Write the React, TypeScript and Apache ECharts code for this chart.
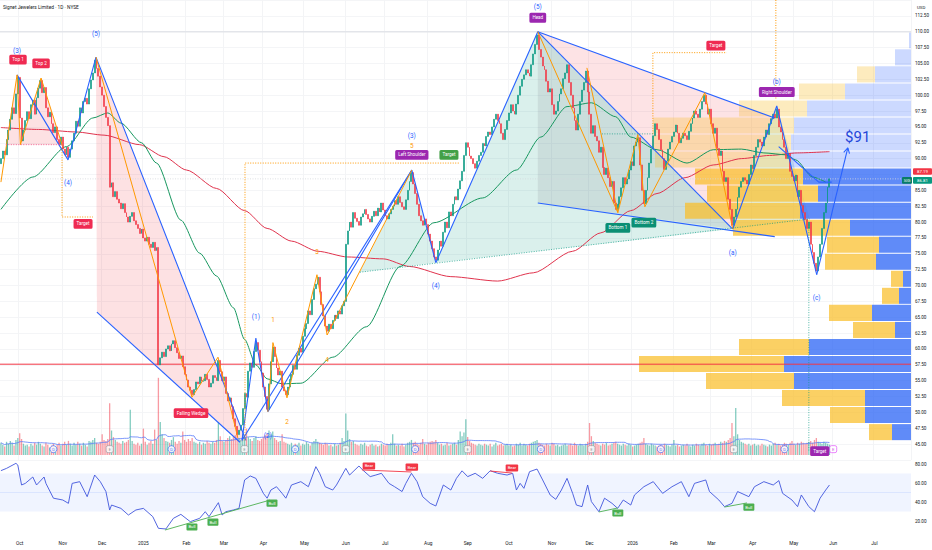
import React, { useEffect, useRef } from "react";
import * as echarts from "echarts";

const FONT = 'Roboto, "Liberation Sans", Arial, sans-serif';
const TITLE = "Signet Jewelers Limited · 1D · NYSE";
const SLOT_COUNT = 486; // trading-day slots on the time axis (Sep 17 2024 -> Jul 2026)
const PRICE_MIN = 42.5;
const PRICE_MAX = 115;
const PRICE_STEP = 2.5;

// ---- daily closes (index 0 = 2024-09-17) ----
const firstOpen = 89.2;
const closes = [
  90.0, 91.2, 90.6, 93.0, 94.5, 96.2, 98.0, 97.1, 100.2, 102.8, // 0-9
  96.4, 92.8, // 10-11
  94.5, 96.0, 97.4, 96.3, 98.5, 99.2, 97.0, 99.6, 101.1, 102.3, // 12-21
  100.4, 101.2, 98.0, 96.6, 97.3, 95.5, 94.1, 95.0, 93.0, 92.2, 93.4, 91.5, 90.6, 91.8, 90.2, // 22-36
  91.5, 92.8, 94.0, 95.9, 95.1, 98.0, 97.2, 99.0, 99.5, 98.6, 101.0, 102.4, 103.5, 105.5, // 37-50
  104.2, 103.0, 101.3, 100.0, 98.2, 96.5, 95.2, // 51-57
  85.5, 86.2, 84.0, 84.8, 83.6, 83.0, 82.1, 82.9, 81.5, 80.8, 80.0, 80.9, 81.5, 80.2, 79.6, 79.0, 78.2, 78.9, 77.5, 77.0, 77.6, 76.5, 76.0, 76.8, 75.5, 76.0, // 58-83
  57.5, 58.6, 59.5, 58.8, 60.0, 60.5, 59.7, 60.8, 61.3, 60.2, 59.4, 58.5, 58.9, 57.2, 56.0, 55.1, 54.0, 53.5, 52.8, // 84-102
  53.6, 54.8, 54.5, 55.6, 54.9, 55.0, 56.0, 55.2, 54.0, 54.6, 55.8, 55.5, 55.0, 58.2, // 103-116
  56.4, 55.0, 55.6, 53.0, 51.8, 52.3, 50.9, 49.0, 47.8, 46.5, // 117-126
  47.2, 48.0, 50.6, 53.0, 52.4, 56.5, 57.8, 57.1, 59.6, 61.0, // 127-136
  59.8, 58.0, 56.2, 54.0, 52.5, 50.5, // 137-142
  54.5, 58.0, 60.3, 58.8, 57.0, 55.9, 56.5, 54.0, 53.4, 52.8, // 143-152
  54.0, 55.2, 56.0, 57.4, 56.8, 59.0, 60.1, 59.5, 62.0, 63.2, 64.0, 66.0, 65.4, 67.8, 69.5, 70.2, 71.3, // 153-169
  69.0, 67.0, 65.2, 63.6, 62.8, // 170-174
  63.9, 63.2, 64.5, 65.3, 64.8, 66.0, 65.5, 66.8, 67.5, // 175-183
  76.5, 78.6, 80.0, 79.2, 81.5, 80.6, 80.1, 79.5, 80.8, 81.3, // 184-193
  82.0, 81.2, 80.5, 80.0, 80.9, 81.7, 81.0, 82.2, 81.6, 83.0, // 194-203
  81.9, 81.0, 80.5, 81.3, 82.0, 82.5, 83.4, 82.8, 84.0, 83.1, // 204-213
  82.4, 82.0, 83.5, 85.0, 86.4, 87.8, // 214-219
  86.0, 84.5, 82.8, 81.0, 80.2, 79.5, 80.5, 79.6, 78.1, 77.0, 75.8, 74.5, 74.0, // 220-232
  75.6, 77.0, 76.2, 78.4, 80.0, 79.1, 81.6, 81.0, 82.8, 84.0, 83.5, 85.2, 86.5, 88.0, 90.5, // 233-247
  92.5, 91.8, 90.4, 90.0, 89.2, 88.5, 89.6, 90.5, 91.0, 92.4, 92.0, 93.5, 94.2, 93.8, 95.0, 96.2, 97.0, // 248-264
  96.0, 95.5, 94.0, 93.0, 94.6, 96.0, 97.2, 98.5, 97.5, 97.0, 98.6, 100.0, 101.4, 102.5, 103.2, 104.0, 103.5, 103.0, 104.8, 106.5, 108.0, 109.5, // 265-286
  107.2, 106.0, 104.6, 104.0, 102.2, 100.5, 101.0, 98.5, 97.0, 97.5, 99.0, 100.2, 101.0, 102.6, 103.5, 104.8, 102.0, 100.0, 98.0, 96.0, 94.5, 97.0, 99.0, 100.8, 102.0, 103.8, // 287-312
  100.5, 97.0, 94.0, 95.2, 93.5, 92.8, 91.0, 91.8, 88.6, 87.5, 88.5, 87.0, 85.6, 86.4, 83.0, 82.0, // 313-328
  82.8, 84.0, 85.4, 87.0, 86.0, 86.8, 88.2, 89.5, 88.9, 92.0, 92.6, 93.3, 89.0, 85.0, 82.9, // 329-343
  85.0, 87.0, 89.3, 91.5, 93.6, 95.5, 94.6, 93.0, 91.4, 90.0, 88.3, 89.6, 91.5, 92.6, 93.5, 94.2, 95.3, // 344-360
  94.0, 92.5, 93.2, 94.0, 93.6, 93.0, 94.3, 95.5, 96.4, 97.5, 97.0, 96.5, 97.8, 99.0, 100.0, // 361-375
  98.6, 97.0, 97.8, 95.5, 94.0, 94.8, 91.6, 90.5, 91.2, 88.0, 86.4, 87.0, 83.6, 82.0, 79.5, // 376-390
  80.8, 82.0, 83.9, 85.5, 86.4, 87.0, 86.6, 86.0, 87.5, 89.0, 88.4, 90.5, 91.8, 93.0, 92.6, 92.0, 93.4, 94.5, 93.8, 95.5, 96.3, 97.0, 96.4, 97.8, // 391-414
  95.0, 94.2, 93.0, 91.8, 90.0, 90.8, 88.0, 87.2, 86.5, 87.4, 84.0, 85.0, 82.6, 81.5, 80.4, 79.0, 80.0, 76.5, 75.2, 73.5, 72.3, 74.5, 76.5, 79.0, 81.5, 83.0, 85.5, 86.81, // 415-442
];
const refPrice = 87.19;

// ---- daily volume, millions of shares ----
const volumes = [
  1.3, 1.1, 0.9, 1.4, 1.2, 1.5, 1.3, 1.0, 1.6, 1.8,
  2.3, 1.7, 1.2, 1.0, 1.1, 0.9, 1.2, 1.0, 1.3, 1.1,
  1.4, 1.2, 1.0, 0.9, 1.3, 1.1, 0.8, 1.0, 1.2, 0.9,
  1.1, 1.3, 1.0, 1.2, 1.4, 1.1, 1.5, 1.2, 1.0, 1.3,
  1.1, 1.4, 1.2, 1.0, 1.3, 1.1, 0.9, 1.5, 1.4, 1.6,
  1.8, 1.3, 1.2, 1.4, 2.2, 1.6, 1.5, 1.7, 5.5, 2.6,
  1.9, 1.6, 1.4, 1.3, 1.2, 1.5, 1.3, 1.4, 1.6, 4.8,
  1.5, 1.2, 1.1, 1.3, 1.0, 1.2, 2.8, 1.4, 1.1, 1.3,
  1.5, 1.2, 2.7, 1.6, 8.2, 3.5, 2.2, 1.8, 1.5, 1.4,
  1.3, 1.6, 1.9, 1.4, 1.2, 1.5, 1.3, 2.5, 1.6, 1.4,
  1.7, 1.5, 1.8, 1.4, 1.3, 1.2, 1.4, 1.1, 1.3, 1.2,
  1.5, 1.3, 1.2, 1.4, 1.3, 1.6, 3.5, 2.0, 1.5, 1.4,
  1.6, 1.8, 2.0, 1.7, 1.9, 2.1, 2.4, 1.8, 1.6, 2.2,
  2.0, 2.8, 1.9, 1.7, 1.5, 1.8, 2.0, 1.6, 1.5, 1.7,
  1.9, 2.1, 2.3, 2.6, 2.2, 2.5, 1.8, 1.6, 1.4, 1.5,
  2.2, 1.4, 1.3, 1.2, 1.1, 1.3, 1.0, 1.2, 1.1, 1.3,
  1.0, 1.2, 1.1, 1.4, 1.2, 1.0, 1.3, 1.5, 1.7, 1.4,
  1.3, 1.2, 1.1, 1.3, 1.2, 1.0, 1.1, 0.9, 1.2, 1.0,
  1.1, 1.3, 1.8, 1.5, 4.4, 2.6, 1.7, 1.4, 1.5, 1.2,
  1.1, 1.0, 1.2, 1.1, 1.3, 1.0, 0.9, 1.1, 1.2, 1.0,
  1.1, 0.9, 1.0, 1.2, 1.1, 1.0, 1.2, 1.1, 1.3, 2.2,
  1.2, 1.0, 1.1, 1.0, 1.2, 0.9, 1.1, 1.3, 1.4, 1.6,
  1.3, 1.4, 1.2, 1.1, 1.3, 1.7, 1.2, 1.1, 1.3, 1.4,
  1.5, 1.4, 1.6, 1.3, 1.1, 1.2, 1.0, 1.1, 1.3, 1.0,
  1.1, 1.2, 1.3, 1.1, 1.6, 2.5, 2.0, 2.4, 3.8, 1.9,
  1.5, 1.3, 1.2, 1.1, 1.0, 1.2, 1.1, 1.0, 1.2, 1.1,
  1.0, 1.2, 0.9, 1.1, 1.3, 1.0, 1.1, 1.2, 1.0, 1.1,
  1.2, 1.0, 1.1, 0.9, 1.0, 1.2, 1.1, 1.3, 1.0, 1.2,
  1.1, 1.0, 1.2, 1.3, 1.4, 1.5, 1.6, 1.3, 1.2, 1.1,
  1.0, 1.2, 1.1, 1.0, 1.3, 1.2, 1.0, 1.1, 0.9, 1.0,
  1.1, 1.2, 1.0, 1.1, 1.2, 1.0, 1.3, 1.1, 1.0, 1.2,
  1.1, 1.0, 1.2, 1.4, 3.4, 2.0, 1.5, 1.3, 1.2, 1.1,
  1.0, 1.2, 1.1, 1.3, 1.0, 1.1, 1.2, 1.3, 1.4, 1.2,
  1.1, 1.0, 1.2, 1.1, 1.0, 1.2, 1.1, 0.9, 1.0, 1.1,
  1.2, 1.3, 1.4, 1.8, 1.2, 1.1, 1.0, 1.2, 1.1, 1.0,
  0.9, 1.0, 1.1, 1.0, 1.2, 1.1, 1.0, 0.9, 1.1, 1.6,
  1.0, 1.1, 0.9, 1.0, 1.1, 1.0, 1.2, 1.0, 0.9, 1.1,
  1.0, 1.2, 1.1, 1.0, 1.2, 1.3, 1.1, 1.0, 1.2, 1.1,
  1.2, 1.3, 1.1, 1.2, 1.4, 1.3, 1.5, 1.4, 1.6, 1.8,
  3.4, 2.0, 5.0, 2.2, 1.6, 1.4, 1.3, 1.2, 1.1, 1.2,
  1.0, 1.1, 1.2, 1.0, 1.1, 1.0, 1.2, 1.1, 1.0, 0.9,
  1.1, 1.0, 1.2, 1.3, 1.1, 1.2, 1.0, 1.1, 1.3, 1.2,
  1.1, 1.3, 1.5, 1.2, 1.1, 1.3, 1.2, 1.4, 1.3, 1.2,
  1.3, 1.4, 1.5, 1.3, 1.6, 1.8, 1.4, 1.3, 1.2, 1.4,
  1.3, 1.2, 1.1,
];
const VOLUME_MA_LEN = 20;

// ---- moving averages: [day index, value] ----
const sma200 = [
  [0, 94.9], [20, 94.6], [40, 94.2], [55, 93.7], [74, 92.2], [87, 90.3], [99, 88.2], [115, 85.3],
  [130, 81.8], [142, 79.0], [155, 77.0], [169, 75.4], [185, 74.5], [204, 74.2], [218, 73.0], [240, 71.4],
  [265, 70.7], [284, 72.0], [305, 75.4], [320, 78.3], [336, 81.8], [350, 84.5], [365, 87.0], [380, 89.0],
  [395, 90.0], [410, 90.5], [425, 90.9], [442, 91.1],
];
const sma50 = [
  [0, 82.0], [17, 87.1], [35, 91.9], [49, 96.4], [57, 97.2], [64, 95.6], [75, 92.5], [83, 89.3],
  [96, 80.3], [106, 75.1], [115, 71.5], [124, 66.5], [130, 61.5], [136, 57.5], [142, 55.3], [150, 54.5],
  [160, 54.6], [177, 58.7], [195, 63.5], [213, 73.0], [231, 79.9], [257, 83.8], [275, 88.2], [288, 93.4],
  [302, 98.2], [315, 98.8], [328, 96.6], [336, 93.4], [350, 91.4], [366, 89.3], [380, 91.4], [395, 91.5],
  [407, 90.9], [419, 90.6], [424, 89.8], [433, 87.1], [440, 86.3],
];

// ---- RSI(14): [day index, value] ----
const rsi = [
  [0, 73], [3, 75.4], [8, 80.7], [9, 78.9], [11, 57.9], [13, 59.6], [17, 66.3], [19, 57.9], [23, 66.3], [24, 59.6],
  [28, 44], [33, 42.1], [36, 38.6], [38, 59.6], [42, 61.4], [46, 45.6], [50, 68.4], [53, 61.4], [56, 51], [58, 31.6],
  [59, 36.8], [64, 33.3], [68, 26.3], [72, 31.6], [76, 33.3], [81, 24.6], [84, 12.3], [88, 11.6], [92, 22.8], [96, 27],
  [101, 19.3], [106, 22.8], [109, 29.8], [111, 24.6], [116, 39.3], [118, 26.3], [120, 29.8], [124, 31.6], [127, 33.3], [130, 63.2],
  [133, 67.4], [136, 64.9], [140, 49.1], [142, 44], [144, 52.6], [147, 56.1], [150, 49.1], [152, 44], [155, 57.9], [160, 61.4],
  [164, 56.1], [168, 77.2], [170, 70.2], [173, 56.1], [177, 52.6], [179, 57.9], [184, 75.4], [186, 68.4], [191, 77.9], [193, 73.7],
  [197, 66.7], [200, 68.4], [203, 70.2], [207, 59.6], [210, 56.1], [214, 51], [216, 59.6], [219, 70.2], [222, 61.4], [225, 45.6],
  [229, 38.6], [232, 35.8], [236, 57.9], [240, 52.6], [243, 64.9], [246, 72.8], [249, 66.7], [253, 70.2], [257, 64.9], [261, 72.9],
  [265, 70.2], [270, 68.4], [273, 70.2], [275, 52.6], [277, 59.6], [279, 54.4], [282, 71.9], [286, 74.7], [289, 63.2], [293, 47.4],
  [296, 42.8], [299, 52.6], [302, 64.9], [305, 49.1], [307, 36.8], [310, 35.1], [313, 57.9], [315, 40.4], [319, 29.8], [322, 44],
  [326, 38.6], [329, 33.3], [332, 42.1], [336, 36.8], [338, 47.4], [343, 56.1], [348, 61.4], [353, 49.1], [358, 56.1], [363, 61.4],
  [367, 45.6], [370, 59.6], [376, 63.2], [378, 51], [383, 42.1], [386, 35.1], [390, 38.6], [393, 51], [399, 45.6], [402, 56.1],
  [407, 61.4], [412, 57.9], [415, 62.5], [417, 49.1], [422, 42.1], [425, 35.1], [427, 47.4], [431, 35.1], [434, 29.8], [437, 44],
  [440, 52.6], [442, 57.9],
];
const RSI_UPPER = 70;
const RSI_LOWER = 30;
const rsiBullLines = [
  [[87.5, 10.5], [143.5, 42.0]],
  [[319, 29.5], [329, 33.7]],
  [[386, 34.7], [398, 39.0]],
];
const rsiBearLines = [
  [[192.6, 73.7], [219, 71.6]],
  [[261, 72.6], [272.6, 70.5]],
];
const rsiBullTags = [["Bull", 101.9, 13.7], ["Bull", 113.1, 18.9], ["Bull", 144.6, 38.9], ["Bull", 329.1, 28.4], ["Bull", 399.0, 34.7]];
const rsiBearTags = [["Bear", 196.3, 77.9], ["Bear", 219.2, 76.8], ["Bear", 272.6, 75.8]];

// ---- visible-range volume profile: 24 rows from vpLow, step vpStep ----
const vpLow = 45.55;
const vpStep = 2.685;
const vpUp = [19, 46, 46, 117, 127, 102, 16, 39, 12, 8, 35, 32, 61, 111, 93, 108, 121, 120, 117, 104, 66, 36, 16, 2];
const vpDown = [23, 35, 83, 88, 145, 70, 42, 43, 17, 12, 51, 52, 117, 115, 111, 108, 135, 138, 141, 68, 46, 18, 0, 0];
const VP_AXIS_MAX = 911;

// ---- events (day index) ----
const dividendDays = [28, 91, 157, 221, 288, 352, 418];
const earningsDays = [58, 130, 184, 249, 315, 391];
const nextEarningsDays = [444];

// ---- drawings, anchored at [day index, price] ----
const doubleTopZone = [[2.6, 92.2], [8.6, 103.2], [10.4, 92.2], [21.4, 102.7], [32.6, 92.2]];
const wedgeZone = [[50.7, 106.0], [130.7, 45.6], [127.5, 45.3], [51.2, 65.8]];
const leftShoulderZone = [[191.5, 72.1], [219.2, 88.2], [232.0, 73.6]];
const headZone = [[232.0, 73.6], [286.4, 110.0], [390.4, 78.9]];
const rightShoulderZone = [[390.4, 78.9], [413.9, 98.3], [431.5, 80.5]];
const headGrayZone = [[286.4, 110.0], [390.4, 78.9], [286.4, 83.0]];
const broadeningZone = [[286.4, 110.0], [412.8, 96.4], [413.9, 98.3], [390.4, 78.9]];

const bluePaths = [
  [[8.6, 103.2], [35.8, 89.8], [50.7, 106.0], [130.7, 45.6]],
  [[51.2, 65.8], [127.5, 45.3]],
  [[128.6, 45.6], [136.0, 61.7], [142.4, 50.1], [219.2, 88.2], [232.0, 73.6], [286.4, 110.0]],
  [[128.6, 45.6], [219.2, 88.2]],
  [[286.4, 110.0], [390.4, 78.9]],
  [[286.4, 110.0], [412.8, 96.4]],
  [[286.4, 83.0], [412.8, 77.7]],
  [[390.4, 78.9], [413.9, 98.3], [435.2, 71.7]],
  [[435.2, 71.7], [451.8, 91.7]],
  [[449.6, 91.0], [451.8, 91.7], [452.7, 90.8]],
  [[414.9, 91.9], [436.3, 86.3], [443.2, 86.3]],
];
const orangePaths = [
  [[0, 86.3], [8.6, 103.2], [10.4, 92.2], [21.4, 102.7], [32.6, 92.2]],
  [[50.7, 106.0], [101.9, 52.4], [115.8, 58.7], [126.4, 46.0]],
  [[142.4, 50.1], [145.1, 61.0], [152.6, 52.3], [168.6, 71.7], [174.0, 62.2], [219.2, 88.2]],
  [[286.4, 110.0], [329.1, 81.5]],
  [[312.6, 104.3], [329.1, 81.5], [339.8, 93.8], [343.5, 82.4], [375.5, 100.4], [390.4, 78.9]],
];
const orangeDotted = [
  [[32.6, 92.2], [32.6, 80.8], [49.1, 80.8]],
  [[130.2, 45.6], [130.2, 89.3], [244.8, 89.3]],
  [[347.8, 93.9], [347.8, 106.7], [387.2, 106.7]],
  [[413.4, 115.0], [413.4, 99.3]],
];
const pinkDotted = [[[2.6, 92.2], [32.6, 92.2]]];
const tealDotted = [
  [[191.5, 72.1], [431.5, 80.5]],
  [[320.6, 93.9], [347.8, 93.9]],
  [[431.0, 79.6], [431.0, 44.0]],
];
const supportLevel = 57.6;
const headLevel = 110.0;

const waveLabels = [["(3)", 8.6, 106.9], ["(4)", 35.8, 86.2], ["(5)", 50.7, 109.6], ["(1)", 136.0, 65.0], ["(2)", 142.4, 46.3], ["(3)", 219.2, 93.5], ["(4)", 232.0, 70.0], ["(5)", 286.4, 113.9], ["(a)", 390.4, 75.1], ["(b)", 413.9, 102.0], ["(c)", 435.2, 68.0]];
const subWaveLabels = [["1", 145.1, 64.6], ["2", 152.6, 48.5], ["3", 168.6, 75.3], ["4", 174.0, 58.3], ["5", 219.2, 92.0]];
const redTags = [["Top 1", 9.1, 105.6], ["Top 2", 21.4, 105.0], ["Target", 43.8, 79.7], ["Falling Wedge", 101.4, 49.9], ["Target", 381.4, 107.8]];
const purpleTags = [["Left Shoulder", 219.2, 90.6], ["Head", 286.4, 112.2], ["Right Shoulder", 413.9, 100.5], ["Target", 436.8, 43.9]];
const greenTags = [["Target", 239.0, 90.6]];
const tealTags = [["Bottom 1", 329.1, 79.1], ["Bottom 2", 343.0, 79.9]];
const projectionTags = [["$91", 457.1, 93.4]];

// ---------------------------------------------------------------------------
const MONTHS = ["Jan", "Feb", "Mar", "Apr", "May", "Jun", "Jul", "Aug", "Sep", "Oct", "Nov", "Dec"];

function buildDates(): string[] {
  const out: string[] = [];
  const d = new Date(Date.UTC(2024, 8, 17));
  while (out.length < SLOT_COUNT) {
    const wd = d.getUTCDay();
    if (wd !== 0 && wd !== 6) out.push(d.toISOString().slice(0, 10));
    d.setUTCDate(d.getUTCDate() + 1);
  }
  return out;
}

const C_UP = "#089981";
const C_DN = "#f23645";
const C_BLUE = "#2962ff";
const C_ORANGE = "#ff9800";

function buildOption() {
  const dates = buildDates();
  const labelAt: Record<number, string> = {};
  for (let i = 1; i < dates.length; i++) {
    if (dates[i].slice(5, 7) !== dates[i - 1].slice(5, 7)) {
      const m = +dates[i].slice(5, 7) - 1;
      labelAt[i] = m === 0 ? dates[i].slice(0, 4) : MONTHS[m];
    }
  }
  const isMonthStart = (i: number) => labelAt[i] !== undefined;
  const last = closes[closes.length - 1];

  const ohlc = closes.map((c, i) => {
    const o = i === 0 ? firstOpen : closes[i - 1];
    return [o, c, Math.min(o, c), Math.max(o, c)];
  });
  const volBars = volumes.map((v, i) => {
    const o = i === 0 ? firstOpen : closes[i - 1];
    const up = closes[i] >= o;
    return { value: v, itemStyle: { color: up ? "rgba(8,153,129,0.5)" : "rgba(242,54,69,0.5)" } };
  });
  const volMA = volumes.map((_, i) => {
    const s = Math.max(0, i - VOLUME_MA_LEN + 1);
    const w = volumes.slice(s, i + 1);
    return w.reduce((a, b) => a + b, 0) / w.length;
  });

  const G = { left: 0, right: 21 };
  const grid = [
    { ...G, top: 0, height: 460 }, // 0 price
    { ...G, top: 375, height: 80 }, // 1 volume
    { ...G, top: 445, height: 95 }, // 2 rsi (axis labels)
    { ...G, top: 0, height: 460 }, // 3 volume profile
    { ...G, top: 0, height: 460 }, // 4 drawings
    { ...G, top: 445, height: 95 }, // 5 rsi values
  ];

  const xAxis: any[] = [
    {
      type: "category", gridIndex: 0, data: dates, boundaryGap: true,
      axisLine: { show: false }, axisTick: { show: false }, axisLabel: { show: false },
      splitLine: { show: true, interval: (i: number) => isMonthStart(i), lineStyle: { color: "#f3f4f6", width: 1 } },
    },
    { type: "category", gridIndex: 1, data: dates, show: false },
    {
      type: "category", gridIndex: 2, data: dates, boundaryGap: true,
      axisLine: { show: false }, axisTick: { show: false }, splitLine: { show: false },
      axisLabel: {
        interval: (i: number) => isMonthStart(i),
        formatter: (_v: string, i: number) => labelAt[i] ?? "",
        fontSize: 4.8, color: "#131722", margin: 1, fontFamily: FONT,
      },
    },
    { type: "value", gridIndex: 3, min: 0, max: VP_AXIS_MAX, inverse: true, show: false },
    { type: "value", gridIndex: 4, min: -0.5, max: SLOT_COUNT - 0.5, show: false },
    { type: "value", gridIndex: 5, min: -0.5, max: SLOT_COUNT - 0.5, show: false },
  ];
  // price-scale labels hidden where the last-price tags sit (as on the reference)
  const hiddenByTag = (v: number) => Math.abs(v - last) < 1.5 || Math.abs(v - refPrice) < 1.5;
  const yAxis: any[] = [
    {
      type: "value", gridIndex: 0, position: "right", min: PRICE_MIN, max: PRICE_MAX, interval: PRICE_STEP,
      axisLine: { show: false }, axisTick: { show: false },
      axisLabel: { fontSize: 4.6, color: "#131722", margin: 4, fontFamily: FONT, showMinLabel: false, showMaxLabel: false, formatter: (v: number) => (hiddenByTag(v) ? "" : v.toFixed(2)) },
      splitLine: { lineStyle: { color: "#f4f5f7", width: 1 } },
    },
    { type: "value", gridIndex: 1, min: 0, max: 8.5, show: false },
    {
      type: "value", gridIndex: 2, position: "right", min: 0, max: 100, interval: 20,
      axisLine: { show: false }, axisTick: { show: false }, splitLine: { show: false },
      axisLabel: { fontSize: 4.6, color: "#131722", margin: 4, fontFamily: FONT, showMinLabel: false, showMaxLabel: false, formatter: (v: number) => v.toFixed(2) },
    },
    { type: "value", gridIndex: 3, min: PRICE_MIN, max: PRICE_MAX, show: false },
    { type: "value", gridIndex: 4, min: PRICE_MIN, max: PRICE_MAX, show: false },
    { type: "value", gridIndex: 5, min: 0, max: 100, show: false },
  ];

  const series: any[] = [];

  // fills
  const fills = [
    { pts: doubleTopZone, color: "rgba(242,54,69,0.15)" },
    { pts: wedgeZone, color: "rgba(242,54,69,0.15)" },
    { pts: leftShoulderZone, color: "rgba(8,153,129,0.15)" },
    { pts: headZone, color: "rgba(8,153,129,0.15)" },
    { pts: rightShoulderZone, color: "rgba(8,153,129,0.12)" },
    { pts: headGrayZone, color: "rgba(120,123,134,0.15)" },
    { pts: broadeningZone, color: "rgba(242,54,69,0.14)" },
  ];
  series.push({
    type: "custom", xAxisIndex: 4, yAxisIndex: 4, silent: true, z: 1,
    data: fills.map((f, k) => [f.pts[0][0], f.pts[0][1], k]),
    renderItem: (_p: any, api: any) => {
      const f = fills[api.value(2)];
      return { type: "polygon", shape: { points: f.pts.map((p) => api.coord(p)) }, style: { fill: f.color } };
    },
  });

  // volume profile
  series.push({
    type: "custom", xAxisIndex: 3, yAxisIndex: 3, silent: true, z: 2,
    encode: { x: 1, y: 0 },
    data: vpUp.map((u, k) => [vpLow + k * vpStep, u, vpDown[k]]),
    renderItem: (_p: any, api: any) => {
      const lo = api.value(0), up = api.value(1), dn = api.value(2);
      const hi = lo + vpStep;
      const faded = lo > last;
      const pR = api.coord([0, lo]);
      const pU = api.coord([up, hi]);
      const pT = api.coord([up + dn, hi]);
      const top = pU[1] + 0.5;
      const h = Math.max(0.5, pR[1] - pU[1] - 1);
      const children: any[] = [
        { type: "rect", shape: { x: pU[0], y: top, width: pR[0] - pU[0], height: h }, style: { fill: faded ? "rgba(41,98,255,0.24)" : "rgba(41,98,245,0.74)" } },
      ];
      if (dn > 0) children.push({ type: "rect", shape: { x: pT[0], y: top, width: pU[0] - pT[0], height: h }, style: { fill: faded ? "rgba(250,190,40,0.3)" : "rgba(250,190,40,0.72)" } });
      return { type: "group", children };
    },
  });

  // moving averages
  series.push({ type: "line", xAxisIndex: 4, yAxisIndex: 4, data: sma200, symbol: "none", smooth: 0.25, smoothMonotone: "x", silent: true, z: 3, lineStyle: { color: "#e0334d", width: 1 } });
  series.push({ type: "line", xAxisIndex: 4, yAxisIndex: 4, data: sma50, symbol: "none", smooth: 0.25, smoothMonotone: "x", silent: true, z: 3, lineStyle: { color: "#17975f", width: 1 } });

  // horizontal levels
  const hline = (p: number, color: string, width: number, type: any) => ({
    type: "line", xAxisIndex: 4, yAxisIndex: 4, data: [[-0.5, p], [SLOT_COUNT - 0.5, p]], symbol: "none", silent: true, z: 3,
    lineStyle: { color, width, type },
  });
  series.push(hline(headLevel, "#e3e5ea", 1.4, "solid"));
  series.push(hline(last, "#d6d8dd", 0.8, [1, 1.5]));
  series.push(hline(supportLevel, "#f23645", 1, "solid"));

  // candles
  series.push({
    type: "candlestick", xAxisIndex: 0, yAxisIndex: 0, data: ohlc, barWidth: 1.4, z: 4, silent: true,
    itemStyle: { color: C_UP, color0: C_DN, borderColor: C_UP, borderColor0: C_DN, borderWidth: 0.6 },
  });

  // volume
  series.push({ type: "bar", xAxisIndex: 1, yAxisIndex: 1, data: volBars, barWidth: 1.3, silent: true, z: 2 });
  series.push({ type: "line", xAxisIndex: 1, yAxisIndex: 1, data: volMA, symbol: "none", silent: true, z: 3, lineStyle: { color: "#5b7cfa", width: 0.8 } });
  const ev = (days: number[], letter: string, symbol: string, color: string, fg: string) => ({
    type: "scatter", xAxisIndex: 1, yAxisIndex: 1, silent: true, z: 6, symbol, symbolSize: 7,
    data: days.map((d) => [d, 0.62]),
    itemStyle: { color: "#ffffff", borderColor: color, borderWidth: 0.8 },
    label: { show: true, position: "inside", formatter: letter, fontSize: 4.4, color: fg, fontFamily: FONT },
  });
  series.push(ev(dividendDays, "D", "circle", C_BLUE, C_BLUE));
  series.push(ev(earningsDays, "E", "roundRect", "#9598a1", "#787b86"));
  series.push(ev(nextEarningsDays, "E", "roundRect", "#e040fb", "#c02fd6"));

  // drawings
  const path = (pts: number[][], color: string, width: number, type: any, z = 5) => ({
    type: "line", xAxisIndex: 4, yAxisIndex: 4, data: pts, symbol: "none", silent: true, z,
    lineStyle: { color, width, type },
  });
  bluePaths.forEach((p) => series.push(path(p, C_BLUE, 1.1, "solid")));
  orangePaths.forEach((p) => series.push(path(p, C_ORANGE, 1, "solid")));
  orangeDotted.forEach((p) => series.push(path(p, C_ORANGE, 1, [1, 1.5])));
  pinkDotted.forEach((p) => series.push(path(p, "#f06292", 1, [1, 1.5])));
  tealDotted.forEach((p) => series.push(path(p, "rgba(8,153,129,0.7)", 1, [1, 1.5])));

  // labels
  const textSeries = (items: any[], xi: number, yi: number, style: any, z = 7) => ({
    type: "custom", xAxisIndex: xi, yAxisIndex: yi, silent: true, z,
    data: items.map((it, k) => [it[1], it[2], k]),
    renderItem: (_p: any, api: any) => {
      const it = items[api.value(2)];
      const pt = api.coord([api.value(0), api.value(1)]);
      return {
        type: "text", x: pt[0], y: pt[1],
        style: { text: it[0], fontFamily: FONT, align: "center", verticalAlign: "middle", ...style },
      };
    },
  });
  const tag = (bg: string) => ({ fill: "#ffffff", backgroundColor: bg, padding: [2.4, 3], borderRadius: 1.5, fontSize: 4.6 });
  series.push(textSeries(waveLabels, 4, 4, { fill: C_BLUE, fontSize: 6.4 }));
  series.push(textSeries(subWaveLabels, 4, 4, { fill: C_ORANGE, fontSize: 6.4 }));
  series.push(textSeries(redTags, 4, 4, tag("#ef2b52")));
  series.push(textSeries(purpleTags, 4, 4, tag("#9c27b0")));
  series.push(textSeries(greenTags, 4, 4, tag("#43a047")));
  series.push(textSeries(tealTags, 4, 4, tag("#0b8f74")));
  series.push(textSeries(projectionTags, 4, 4, { fill: "#2446d8", fontSize: 15 }));

  // RSI
  series.push({
    type: "line", xAxisIndex: 5, yAxisIndex: 5, data: rsi, symbol: "none", silent: true, z: 4,
    lineStyle: { color: "#3f55dc", width: 0.9 },
    markArea: { silent: true, itemStyle: { color: "rgba(41,98,255,0.07)" }, data: [[{ yAxis: RSI_LOWER }, { yAxis: RSI_UPPER }]] },
    markLine: { silent: true, symbol: "none", label: { show: false }, lineStyle: { color: "rgba(41,98,255,0.1)", type: "solid", width: 1 }, data: [{ yAxis: 50 }] },
  });
  const rsiPath = (pts: number[][], color: string) => ({
    type: "line", xAxisIndex: 5, yAxisIndex: 5, data: pts, symbol: "none", silent: true, z: 5, lineStyle: { color, width: 0.9 },
  });
  rsiBullLines.forEach((p) => series.push(rsiPath(p, "#4caf50")));
  rsiBearLines.forEach((p) => series.push(rsiPath(p, "#f23645")));
  const smallTag = (bg: string) => ({ fill: "#ffffff", backgroundColor: bg, padding: [1.6, 2], borderRadius: 1, fontSize: 4.2 });
  series.push(textSeries(rsiBullTags, 5, 5, smallTag("#4caf50")));
  series.push(textSeries(rsiBearTags, 5, 5, smallTag("#f23645")));

  return {
    animation: false,
    backgroundColor: "#ffffff",
    textStyle: { fontFamily: FONT },
    grid,
    xAxis,
    yAxis,
    series,
  };
}

export default function App() {
  const ref = useRef<HTMLDivElement>(null);
  useEffect(() => {
    const el = ref.current;
    if (!el) return;
    const chart = echarts.init(el, undefined, { renderer: "svg" });
    chart.setOption(buildOption());
    const last = closes[closes.length - 1];
    const yLast = chart.convertToPixel({ yAxisIndex: 0 }, last) as number;
    const yRef = chart.convertToPixel({ yAxisIndex: 0 }, refPrice) as number;
    const axisX = chart.getWidth() - 21;
    const yRedMid = yRef - 5;
    const yGreenMid = yLast + 1.5;
    const tagText = (x: number, y: number, t: string) => ({
      type: "text", x, y, z: 100,
      style: { text: t, fill: "#ffffff", fontSize: 4.3, fontFamily: FONT, align: "center", verticalAlign: "middle" },
    });
    chart.setOption({
      graphic: [
        { type: "text", x: 3, y: 7, z: 100, style: { text: TITLE, fill: "#131722", fontSize: 4.8, fontFamily: FONT, verticalAlign: "middle" } },
        { type: "text", x: axisX + 6, y: 7, z: 100, style: { text: "USD", fill: "#131722", fontSize: 4.4, fontFamily: FONT, verticalAlign: "middle" } },
        { type: "rect", z: 99, shape: { x: axisX + 2, y: yRedMid - 3.3, width: 19, height: 6.6, r: 1 }, style: { fill: "#f23645" } },
        tagText(axisX + 11.5, yRedMid, refPrice.toFixed(2)),
        { type: "rect", z: 99, shape: { x: axisX + 2, y: yGreenMid - 3.3, width: 19, height: 6.6, r: 1 }, style: { fill: "#089981" } },
        tagText(axisX + 11.5, yGreenMid, last.toFixed(2)),
        { type: "rect", z: 99, shape: { x: axisX - 9, y: yGreenMid - 3.3, width: 10, height: 6.6, r: 1 }, style: { fill: "#0a7d66" } },
        tagText(axisX - 4, yGreenMid, "SIG"),
      ],
    });
    return () => chart.dispose();
  }, []);
  return <div ref={ref} style={{ position: "fixed", left: 0, top: 0, width: 932, height: 550, background: "#fff" }} />;
}
